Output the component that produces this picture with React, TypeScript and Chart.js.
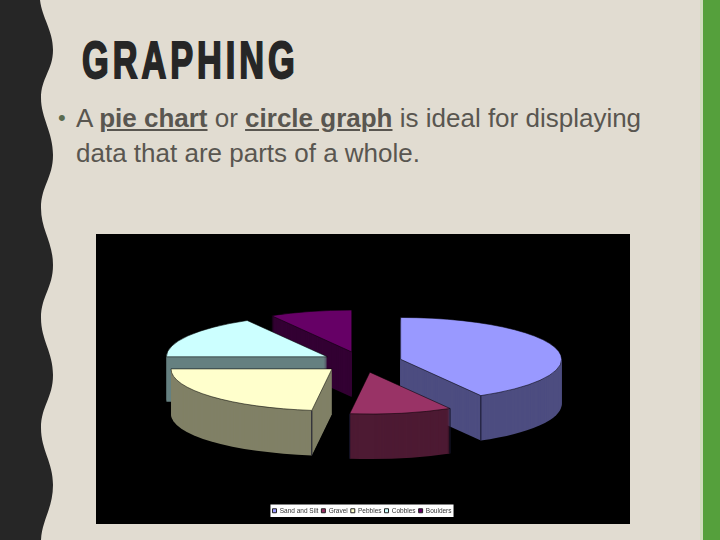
import { useEffect, useRef } from "react";
import { Chart, registerables } from "chart.js";

Chart.register(...registerables);

const categories = ["Sand and Silt", "Gravel", "Pebbles", "Cobbles", "Boulders"];
const values = [41.7, 10.3, 23, 16.7, 8.3];
const topColors = ["#9999ff", "#993366", "#ffffcc", "#ccffff", "#660066"];
const wallColors = ["#4d4d80", "#4d1a33", "#808066", "#668080", "#330033"];
// back to front
const paintOrder = [4, 3, 0, 2, 1];

const SQUASH = 0.26;
const DEPTH = 45;
const PIE_CENTER_Y = 128;

const tiltedPie = {
  id: "tiltedPie",
  beforeDraw(chart: any) {
    const { ctx, width, height, legend } = chart;
    ctx.save();
    ctx.fillStyle = "#000";
    ctx.fillRect(0, 0, width, height);
    const boxes = legend.legendHitBoxes;
    if (boxes && boxes.length) {
      const left = Math.min(...boxes.map((b: any) => b.left));
      const right = Math.max(...boxes.map((b: any) => b.left + b.width));
      const top = Math.min(...boxes.map((b: any) => b.top));
      const bottom = Math.max(...boxes.map((b: any) => b.top + b.height));
      ctx.fillStyle = "#fff";
      ctx.fillRect(left - 2, top - 3, right - left + 4, bottom - top + 6);
    }
    ctx.restore();
  },
  beforeDatasetsDraw(chart: any) {
    const { ctx } = chart;
    const arcs = chart.getDatasetMeta(0).data;

    const tracePath = (arc: any, dy: number) => {
      const mid = (arc.startAngle + arc.endAngle) / 2;
      const offset = arc.options.offset;
      ctx.save();
      ctx.translate(arc.x, PIE_CENTER_Y + dy);
      ctx.scale(1, SQUASH);
      ctx.translate(Math.cos(mid) * offset, Math.sin(mid) * offset);
      ctx.beginPath();
      ctx.moveTo(0, 0);
      ctx.arc(0, 0, arc.outerRadius, arc.startAngle, arc.endAngle);
      ctx.closePath();
      ctx.restore();
    };

    // only the rim corners on the near side of the pie show a wall edge
    const nearCorners = (arc: any) => {
      const mid = (arc.startAngle + arc.endAngle) / 2;
      const offset = arc.options.offset;
      const ox = arc.x + Math.cos(mid) * offset;
      const oy = PIE_CENTER_Y + Math.sin(mid) * offset * SQUASH;
      return [arc.startAngle, arc.endAngle]
        .filter((a) => Math.sin(a) > 0.01)
        .map((a) => [ox + Math.cos(a) * arc.outerRadius, oy + Math.sin(a) * arc.outerRadius * SQUASH]);
    };

    paintOrder.forEach((i) => {
      const arc = arcs[i];
      ctx.fillStyle = wallColors[i];
      for (let dy = DEPTH; dy > 0; dy--) {
        tracePath(arc, dy);
        ctx.fill();
      }
      ctx.strokeStyle = "#14142a";
      ctx.lineWidth = 1;
      nearCorners(arc).forEach(([x, y]) => {
        ctx.beginPath();
        ctx.moveTo(x, y);
        ctx.lineTo(x, y + DEPTH);
        ctx.stroke();
      });
      tracePath(arc, 0);
      ctx.fillStyle = topColors[i];
      ctx.fill();
      ctx.strokeStyle = "rgba(0,0,0,0.55)";
      ctx.stroke();
    });
    return false;
  },
};

const WAVE =
  "M0 0 L40 0 C42 18 53 30 53 50 C53 70 41 78 41 98 C41 118 53 132 53 155 C53 178 41 186 41 208 C41 230 53 242 53 265 C53 288 41 296 41 318 C41 340 53 352 53 375 C53 398 41 406 41 428 C41 450 53 462 53 485 C53 508 42 520 41 540 L0 540 Z";

export default function App() {
  const canvasRef = useRef<HTMLCanvasElement>(null);

  useEffect(() => {
    document.body.style.margin = "0";
    const chart = new Chart(canvasRef.current!, {
      type: "pie",
      data: {
        labels: categories,
        datasets: [
          {
            data: values,
            backgroundColor: topColors,
            borderColor: "#222",
            borderWidth: 1,
            offset: 40,
          },
        ],
      },
      options: {
        responsive: false,
        animation: false,
        radius: 161,
        layout: { padding: { bottom: 0, right: 2 } },
        plugins: {
          tooltip: { enabled: false },
          legend: {
            position: "bottom",
            labels: {
              boxWidth: 4,
              boxHeight: 4,
              padding: 3,
              color: "#333",
              font: { family: "Liberation Sans", size: 6.5 },
            },
          },
        },
      },
      plugins: [tiltedPie],
    });
    return () => chart.destroy();
  }, []);

  return (
    <div
      style={{
        position: "relative",
        width: 720,
        height: 540,
        overflow: "hidden",
        background: "#e1dcd1",
        fontFamily: "Liberation Sans",
      }}
    >
      <svg width={60} height={540} style={{ position: "absolute", left: 0, top: 0 }}>
        <path d={WAVE} fill="#262626" />
      </svg>
      <div style={{ position: "absolute", left: 700, top: 0, width: 3, height: 540, background: "#cfdcbd" }} />
      <div style={{ position: "absolute", left: 703, top: 0, width: 17, height: 540, background: "#55a03c" }} />
      <div
        style={{
          position: "absolute",
          left: 82,
          top: 27,
          fontWeight: 700,
          fontSize: 52,
          lineHeight: "66px",
          letterSpacing: 6,
          whiteSpace: "nowrap",
          color: "#262626",
          WebkitTextStroke: "2px #262626",
          transform: "scaleX(0.66)",
          transformOrigin: "left top",
        }}
      >
        GRAPHING
      </div>
      <div style={{ position: "absolute", left: 58, top: 113, width: 10, height: 10, fontSize: 22, lineHeight: "10px", color: "#5a6b50" }}>
        •
      </div>
      <div
        style={{
          position: "absolute",
          left: 76,
          top: 101,
          width: 610,
          fontSize: 26,
          lineHeight: "35px",
          color: "#595650",
        }}
      >
        A <b style={{ textDecoration: "underline" }}>pie chart</b> or <b style={{ textDecoration: "underline" }}>circle graph</b> is ideal for displaying
        <br />
        data that are parts of a whole.
      </div>
      <canvas ref={canvasRef} width={534} height={290} style={{ position: "absolute", left: 96, top: 234 }} />
    </div>
  );
}
